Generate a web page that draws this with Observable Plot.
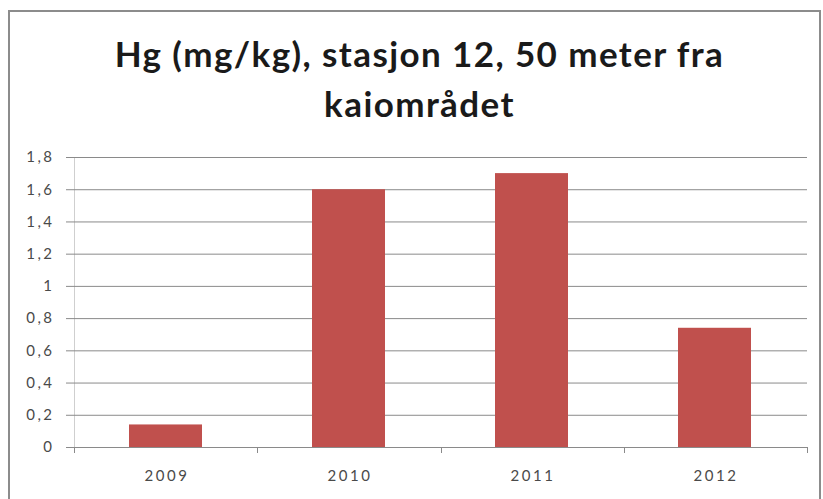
<!DOCTYPE html>
<html>
<head>
<meta charset="utf-8">
<script src="https://cdn.jsdelivr.net/npm/d3@7"></script>
<script src="https://cdn.jsdelivr.net/npm/@observablehq/plot@0.6"></script>
<style>
  html, body { margin: 0; padding: 0; background: #fff; width: 823px; height: 499px; overflow: hidden; }
  #frame { position: absolute; left: 8px; top: 10px; width: 813px; height: 500px; border: 2px solid #8c8c8c; border-bottom: none; box-sizing: border-box; }
  #title { position: absolute; left: 8px; top: 28px; width: 823px; text-align: center; font-family: Lato, "Open Sans", sans-serif; font-weight: bold; font-size: 35px; letter-spacing: 1.4px; line-height: 50px; color: #1a1a1a; }
  #chart { position: absolute; left: 0; top: 140px; }
</style>
</head>
<body>
<div id="frame"></div>
<div id="title">Hg (mg/kg), stasjon 12, 50 meter fra<br>kaiområdet</div>
<div id="chart"></div>
<script>
const years = ["2009", "2010", "2011", "2012"];
const hg = [0.14, 1.60, 1.70, 0.74];
const yTicks = [0, 0.2, 0.4, 0.6, 0.8, 1.0, 1.2, 1.4, 1.6, 1.8];

const data = years.map((y, i) => ({year: y, value: hg[i]}));
const fmt = d => String(+d.toFixed(1)).replace(".", ",");

const gridColor = "#8a8a8a";
const labelColor = "#4a4a4a";

// small tick marks at the category boundaries (below the x axis)
function boundaryTicks(index, scales, values, dim) {
  const g = d3.create("svg:g");
  const x0 = dim.marginLeft, x1 = dim.width - dim.marginRight;
  const yb = dim.height - dim.marginBottom;
  const n = years.length;
  for (let i = 0; i <= n; i++) {
    const x = Math.round(x0 + (x1 - x0) * i / n) + 0.5;
    g.append("line").attr("x1", x).attr("x2", x).attr("y1", yb).attr("y2", yb + 6)
      .attr("stroke", gridColor).attr("stroke-width", 1);
  }
  return g.node();
}

// light vertical axis line
function yAxisLine(index, scales, values, dim) {
  const g = d3.create("svg:g");
  g.append("line").attr("x1", dim.marginLeft + 0.5).attr("x2", dim.marginLeft + 0.5)
    .attr("y1", dim.marginTop).attr("y2", dim.height - dim.marginBottom)
    .attr("stroke", "#cfcfcf");
  return g.node();
}

const plot = Plot.plot({
  width: 823,
  height: 359,
  marginLeft: 74,
  marginRight: 16,
  marginTop: 17,
  marginBottom: 52,
  style: {fontFamily: "Lato, 'Open Sans', sans-serif", fontSize: "15px", color: labelColor, background: "transparent", letterSpacing: "2.5px"},
  x: {domain: years, paddingInner: 0.6, paddingOuter: 0.3, label: null},
  y: {domain: [0, 1.8], label: null},
  marks: [
    yAxisLine,
    Plot.ruleY(yTicks, {stroke: gridColor, strokeWidth: 1,
      render: (index, scales, values, dim, ctx, next) => {
        const g = next(index, scales, values, dim, ctx);
        d3.select(g).selectAll("line").attr("x1", dim.marginLeft - 8);
        return g;
      }}),
    Plot.barY(data, {x: "year", y: "value", fill: "#C0504D"}),
    Plot.axisY({ticks: yTicks, tickFormat: fmt, tickSize: 0, tickPadding: 20, fill: labelColor}),
    Plot.axisX({tickSize: 0, tickPadding: 23, fill: labelColor, dx: 1}),
    boundaryTicks
  ]
});
document.getElementById("chart").appendChild(plot);
</script>
</body>
</html>
